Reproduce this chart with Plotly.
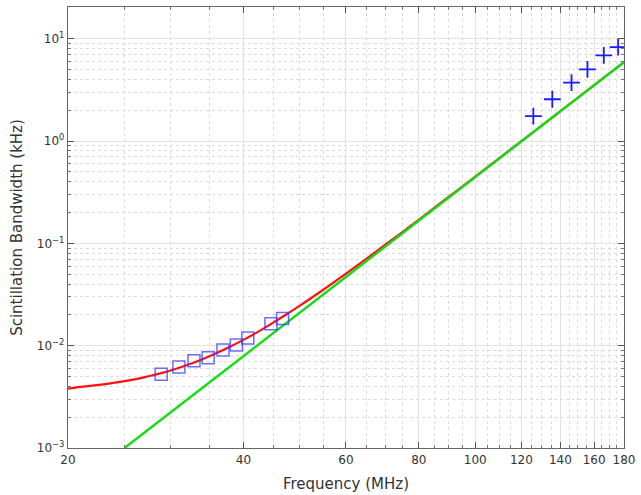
import plotly.graph_objects as go

# --- data ---
lba_freq = [28.9, 31.0, 32.9, 34.8, 36.9, 38.9, 40.7, 44.6, 46.7]
lba_bw = [0.00525, 0.00619, 0.00714, 0.00764, 0.00906, 0.01014, 0.01186, 0.01637, 0.01846]

hba_freq = [125.8, 135.6, 146.3, 155.8, 166.2, 175.9]
hba_bw = [1.75, 2.56, 3.72, 5.01, 6.86, 8.27]

red_freq = [20, 21, 22, 23, 24, 25, 26, 27, 28, 29, 30, 31.5, 33, 34.5, 36, 38, 40, 42.5,
            45, 47.5, 50, 55, 60, 65, 70, 75, 80, 90, 100, 130, 180]
red_bw = [0.0038, 0.00396, 0.00407, 0.00419, 0.00434, 0.0045, 0.00469, 0.0049, 0.00515,
          0.00542, 0.00573, 0.00627, 0.00689, 0.00763, 0.00848, 0.00981, 0.0114, 0.0138,
          0.0168, 0.0204, 0.0246, 0.0356, 0.0506, 0.0705, 0.0964, 0.129, 0.170, 0.284,
          0.449, 1.417, 5.92]

green_freq = [25, 180]
green_bw = [0.001, 5.9]

x_ticks = [20, 40, 60, 80, 100, 120, 140, 160, 180]
x_minor = [25, 30, 35, 45, 50, 55, 65, 70, 75, 85, 90, 95, 105, 110, 115, 125, 130, 135,
           145, 150, 155, 165, 170, 175]
y_ticks = [0.001, 0.01, 0.1, 1, 10]
y_labels = ["10<sup>\u22123</sup>", "10<sup>\u22122</sup>", "10<sup>\u22121</sup>",
            "10<sup>0</sup>", "10<sup>1</sup>"]
y_minor = [m * 10.0 ** e for e in range(-3, 2) for m in range(2, 10)]

fig = go.Figure()
fig.add_trace(go.Scatter(x=red_freq, y=red_bw, mode="lines", line_shape="spline",
                         line=dict(color="#ff1010", width=2.2), showlegend=False))
fig.add_trace(go.Scatter(x=green_freq, y=green_bw, mode="lines",
                         line=dict(color="#11dd11", width=2.4), showlegend=False))
fig.add_trace(go.Scatter(x=lba_freq, y=lba_bw, mode="markers",
                         marker=dict(symbol="square-open", size=12,
                                     color="rgba(60,60,255,0.75)",
                                     line=dict(width=1.5, color="rgba(60,60,255,0.75)")),
                         showlegend=False))
fig.add_trace(go.Scatter(x=hba_freq, y=hba_bw, mode="markers",
                         marker=dict(symbol="cross-thin", size=12,
                                     line=dict(width=1.8, color="#1a1aff")),
                         showlegend=False))

font = "DejaVu Sans"
fig.update_xaxes(
    type="log", range=[1.30103, 2.2553],
    tickmode="array", tickvals=x_ticks, ticktext=[str(v) for v in x_ticks],
    ticks="inside", ticklen=6, tickcolor="#555", tickwidth=1,
    showline=True, linecolor="#666", linewidth=1.3, mirror="ticks",
    showgrid=True, gridcolor="#e2e2e2", gridwidth=1,
    minor=dict(tickvals=x_minor, ticks="inside", ticklen=3, tickcolor="#777",
               showgrid=True, gridcolor="#dcdcdc", griddash="dot", gridwidth=1),
    title=dict(text="Frequency (MHz)", font=dict(size=15, color="#333", family=font), standoff=12),
    tickfont=dict(size=12, color="#333", family=font),
    zeroline=False,
)
fig.update_yaxes(
    type="log", range=[-3, 1.31],
    tickmode="array", tickvals=y_ticks, ticktext=y_labels,
    ticks="inside", ticklen=6, tickcolor="#555", tickwidth=1,
    showline=True, linecolor="#666", linewidth=1.3, mirror="ticks",
    showgrid=True, gridcolor="#e2e2e2", gridwidth=1,
    minor=dict(tickvals=y_minor, ticks="inside", ticklen=3, tickcolor="#777",
               showgrid=True, gridcolor="#dcdcdc", griddash="dot", gridwidth=1),
    title=dict(text="Scintillation Bandwidth (kHz)", font=dict(size=15, color="#333", family=font), standoff=10),
    tickfont=dict(size=12, color="#333", family=font),
    zeroline=False,
)
fig.update_layout(
    width=641, height=495,
    margin=dict(l=68, r=14, t=6, b=46),
    paper_bgcolor="white", plot_bgcolor="white",
    showlegend=False,
)
fig.write_html("out.html", config={"displayModeBar": False},
               post_script="document.body.style.margin='0';document.body.style.overflow='hidden';")
